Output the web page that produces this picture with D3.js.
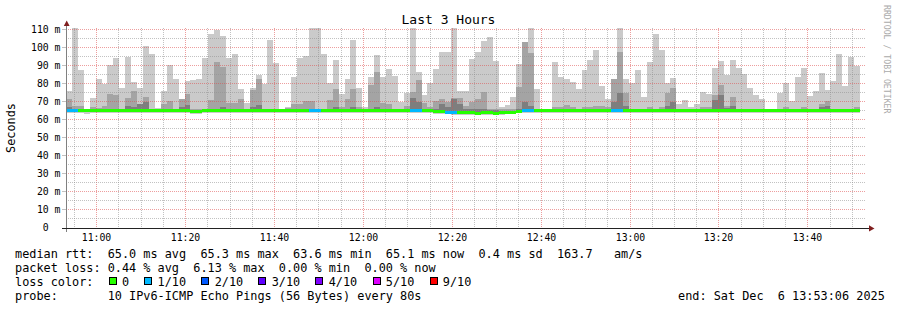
<!DOCTYPE html>
<html lang="en">
<head>
<meta charset="UTF-8">
<title>Last 3 Hours</title>
<style>
  body { margin: 0; background: #fff; }
  svg text { font-family: "DejaVu Sans Mono", monospace; white-space: pre; fill: #000; }
  .axis-label { font-size: 9.8px; }
  .legend { font-size: 11.85px; }
</style>
</head>
<body>
<svg id="chart" width="897" height="310"></svg>
<script src="https://cdn.jsdelivr.net/npm/d3@7"></script>
<script>
// --- data (ms), one slot every 80 s over the last 3 hours ---
const endTime = new Date(2025, 11, 6, 13, 53, 6);
const stepSeconds = 80;

const maxRtt = [76,111,87.8,66,72,83,80,90.5,94.4,78,
  95,81,78,101,96.7,66.7,76,90.5,83,71.5,
  81.7,82,82.8,94.4,108,110,106.7,94.4,96.7,77,
  69.4,77.8,85,80,104.4,91.7,65.6,67,84,94.4,
  95.5,111,111,96.7,80.5,93.3,74.4,83,104.4,77.8,
  67,84,96,84,88.3,84.4,70,75,111,86.7,
  74,80.5,88.3,97.8,97.8,111,76,76,94,98,
  104,106,92.8,67,68.3,72.8,91,103.3,111,77.2,
  66,66,92.2,83.9,82.8,81,77.2,87.8,93.3,98.9,
  79,71.7,82.8,111,82.8,80.5,87.8,72.8,92.2,108,
  99,80.5,83.3,68.9,71,67.2,68.9,75.6,74.4,88.9,
  92.8,85,93.3,88.9,85.6,78,73.9,71.7,66,66,
  75,80.5,70.6,83.9,88.9,73.3,76,86,76.7,81.7,
  96.7,78.9,95,90,null];

// 2nd and 9th ping band top
const p9Rtt = [71.7,68,68,66,67,66.7,68,74.4,73.9,66,
  72.2,76,69,72.8,66,66,69,70.7,66,71.5,
  74.4,66,66,66,71.1,92.2,89.4,69.4,69.4,71.7,
  66,76.7,82.8,66,66,66,65.6,66.7,69,69,
  70.7,70.7,66,66,71,77,67,71.7,77.2,67,
  66,79.4,86.7,69.4,69,66,66,68,75.6,82.2,
  69.4,67,70.7,71.7,70,72,72,68,70,71.7,
  75.6,66,66,66,66,66,78.3,103.3,97.2,66,
  66,66,67,67,68.5,67,66,67,67,67.8,
  67.8,67,82.8,97.8,75,66,66,66,67,66,
  67,75,78,66,66,66,66,67,67,73.9,
  79.4,68,72.8,66,66,66,66,66,66,66,
  66,67,66,66,67,66,66,68.9,70.6,66,
  66,66,66,67,null];

// 3rd and 8th ping band top
const p8Rtt = [67,66,66,65.5,66,66,66,66,66,65.5,
  68,67,69,70,65.5,65.5,66,66,65.5,67,
  68.5,65.5,65.5,65.5,66,66,67,66,66,66,
  65.5,67,68.5,65.5,65.5,65.5,65.5,65.5,66,66,
  66,66,65.5,65.5,66,67,66,66,67,66,
  65.5,66,67,66,66,65.5,65.5,66,72,70,
  66,66,66,69,67,71.7,69,66,66,66,
  66,65.5,65.5,65,65,65,66,70,68,65.5,
  65.5,65.5,66,66,66,66,65.5,66,66,66,
  66,66,70,75,68,65.5,65.5,65.5,66,65.5,
  66,68,70,65.5,65.5,65.5,65.5,66,66,71,
  74,66.7,68,65.5,65.5,65.5,65.5,65.5,65.5,65.5,
  65.5,66,65.5,65.5,66,65.5,65.5,67,68,65.5,
  65.5,65.5,65.5,66,null];

const minRtt = [64,64,64,63.3,64,64,64,64,64,64,
  64,64,64,64,64,64,64,64,64,64,
  64,63.5,63.5,64,64,64,64,64,64,64,
  64,64,64,64,64,64,64,64,64,64,
  64,64,64,64,64,64,64,64,64,64,
  64,64,64,64,64,64,64,64,64,64,
  64,64,63.6,63.4,63.2,63,63,63,63,62.8,
  63,63,62.8,63,63.2,63.4,63.8,64,64,64,
  64,64,64,64,64,64,64,64,64,64,
  64,64,64,64,64,64,64,64,64,64,
  64,64,64,64,64,64,64,64,64,64,
  64,64,64,64,64,64,64,64,64,64,
  64,64,64,64,64,64,64,64,64,64,
  64,64,64,64,null];

const medianRtt = [65.3,65.3,65.3,65.3,65.3,65.3,65.3,65.3,65.3,65.3,
  65.3,65.3,65.3,65.3,65.3,65.3,65.3,65.3,65.3,65.3,
  65.3,64.6,64.6,65.0,65.3,65.3,65.3,65.3,65.3,65.3,
  65.3,65.3,65.3,65.3,65.3,65.3,65.3,65.3,65.3,65.3,
  65.3,65.3,65.3,65.3,65.3,65.3,65.3,65.3,65.3,65.3,
  65.3,65.3,65.3,65.3,65.3,65.1,65.0,65.0,65.1,65.2,
  65.3,65.2,64.9,64.7,64.3,64.0,63.9,64.0,64.1,63.6,
  63.9,64.0,63.6,63.9,64.2,64.4,64.9,65.1,65.2,65.3,
  65.3,65.3,65.3,65.3,65.3,65.3,65.3,65.3,65.3,65.3,
  65.3,65.3,65.3,65.3,65.3,65.3,65.3,65.3,65.3,65.3,
  65.3,65.3,65.3,65.3,65.3,65.3,65.3,65.3,65.3,65.3,
  65.3,65.3,65.3,65.3,65.3,65.3,65.3,65.3,65.3,65.3,
  65.3,65.3,65.3,65.3,65.3,65.3,65.3,65.3,65.3,65.3,
  65.3,65.3,65.3,65.1,null];

// lost pings out of 10
const lossCount = [1,1,0,0,0,0,0,0,0,0,
  0,0,0,0,0,0,0,0,0,0,
  0,0,0,0,0,0,0,0,0,0,
  0,0,0,0,0,0,0,0,0,0,
  0,1,1,0,0,0,0,0,0,0,
  0,0,0,0,0,0,0,0,1,1,
  0,0,0,0,1,1,0,0,0,0,
  0,0,0,0,0,0,0,1,1,0,
  0,0,0,0,0,0,0,0,0,0,
  0,0,1,1,0,0,0,0,0,0,
  0,0,0,0,0,0,0,0,0,0,
  0,0,0,0,0,0,0,0,0,0,
  0,0,0,0,0,0,0,0,0,0,
  0,0,0,0,null];

const yTicks = [0,10,20,30,40,50,60,70,80,90,100,110];
const lossLabels = ['0','1/10','2/10','3/10','4/10','5/10','9/10'];
const lossColors = ['#26ff00','#00b8ff','#0059ff','#5e00ff','#7e00ff','#dd00ff','#ff0000'];
const lossThresholds = [0,1,2,3,4,5,9];
const statLines = [
  'median rtt:  65.0 ms avg  65.3 ms max  63.6 ms min  65.1 ms now  0.4 ms sd  163.7   am/s',
  'packet loss: 0.44 % avg  6.13 % max  0.00 % min  0.00 % now'
];
const probeLine = 'probe:       10 IPv6-ICMP Echo Pings (56 Bytes) every 80s';
const endLine = 'end: Sat Dec  6 13:53:06 2025';

// --- layout ---
const svg = d3.select('#chart');
const startTime = d3.timeHour.offset(endTime, -3);
const x = d3.scaleTime().domain([startTime, endTime]).range([66, 866]);
const y = d3.scaleLinear().domain([0, 111.1]).range([228, 28]);
const slot = i => new Date(startTime.getTime() + i * stepSeconds * 1000);

svg.append('rect').attr('width', 897).attr('height', 310).attr('fill', '#fff');
svg.append('clipPath').attr('id', 'plot').append('rect')
  .attr('x', 66).attr('y', 28).attr('width', 800).attr('height', 200);

// smoke
const smoke = svg.append('g').attr('clip-path', 'url(#plot)').attr('shape-rendering', 'crispEdges');
const layers = [
  { lo: minRtt, hi: maxRtt, color: '#cacaca' },
  { lo: medianRtt, hi: p9Rtt, color: '#a4a4a4' },
  { lo: medianRtt, hi: p8Rtt, color: '#7e7e7e' }
];
layers.forEach(l => {
  smoke.append('g').selectAll('rect')
    .data(d3.range(maxRtt.length).filter(i => l.hi[i] != null))
    .join('rect')
    .attr('x', i => x(slot(i)))
    .attr('width', i => x(slot(i + 1)) - x(slot(i)))
    .attr('y', i => y(l.hi[i]))
    .attr('height', i => y(l.lo[i]) - y(l.hi[i]))
    .attr('fill', l.color);
});

// grid
const grid = svg.append('g').attr('fill', 'none').attr('stroke-dasharray', '1,1');
const minorT = x.ticks(d3.timeMinute.every(5)).filter(t => t.getMinutes() % 20 !== 0);
const majorT = x.ticks(d3.timeMinute.every(20));
grid.selectAll('line.vmin').data(minorT).join('line')
  .attr('x1', t => Math.floor(x(t)) + 0.5).attr('x2', t => Math.floor(x(t)) + 0.5)
  .attr('y1', 28).attr('y2', 228).attr('stroke', 'rgba(143,143,143,0.55)');
grid.selectAll('line.vmaj').data(majorT).join('line')
  .attr('x1', t => Math.floor(x(t)) + 0.5).attr('x2', t => Math.floor(x(t)) + 0.5)
  .attr('y1', 28).attr('y2', 228).attr('stroke', 'rgba(222,79,79,0.55)');
const hTicks = d3.range(5, 111, 5);
grid.selectAll('line.h').data(hTicks).join('line')
  .attr('x1', 66).attr('x2', 866)
  .attr('y1', v => Math.round(y(v)) - 0.5).attr('y2', v => Math.round(y(v)) - 0.5)
  .attr('stroke', v => v % 10 === 0 ? 'rgba(222,79,79,0.55)' : 'rgba(143,143,143,0.55)');

// median, coloured by loss
const lossIndex = c => d3.bisectRight(lossThresholds, c) - 1;
svg.append('g').attr('shape-rendering', 'crispEdges').selectAll('rect')
  .data(d3.range(medianRtt.length).filter(i => medianRtt[i] != null))
  .join('rect')
  .attr('x', i => x(slot(i)))
  .attr('width', i => x(slot(i + 1)) - x(slot(i)))
  .attr('y', i => y(medianRtt[i]) - 1.5)
  .attr('height', 3)
  .attr('fill', i => lossColors[lossIndex(lossCount[i])]);

// axes
svg.append('line').attr('x1', 66.5).attr('x2', 66.5).attr('y1', 232).attr('y2', 25)
  .attr('stroke', '#808080');
svg.append('line').attr('x1', 62).attr('x2', 870).attr('y1', 228.5).attr('y2', 228.5)
  .attr('stroke', '#222');
svg.append('path').attr('d', 'M63.8,26 L69.6,26 L66.7,20.5 Z').attr('fill', '#801f1f');
svg.append('path').attr('d', 'M869,225.3 L869,231.5 L874.5,228.4 Z').attr('fill', '#801f1f');
svg.append('g').selectAll('line').data(yTicks.slice(1)).join('line')
  .attr('x1', 62).attr('x2', 66).attr('y1', v => Math.round(y(v)) - 0.5).attr('y2', v => Math.round(y(v)) - 0.5)
  .attr('stroke', 'rgba(143,143,143,0.55)');

svg.append('g').selectAll('text').data(yTicks).join('text')
  .attr('class', 'axis-label')
  .attr('x', 60.5).attr('y', v => y(v) + 2.6)
  .attr('text-anchor', 'end')
  .text(v => v === 0 ? '0  ' : v + ' m');

svg.append('g').selectAll('text').data(majorT).join('text')
  .attr('class', 'axis-label')
  .attr('x', t => Math.floor(x(t)) + 0.5).attr('y', 241)
  .attr('text-anchor', 'middle')
  .text(d3.timeFormat('%H:%M'));

svg.append('text').attr('class', 'legend')
  .attr('transform', 'translate(15,128) rotate(-90)')
  .attr('text-anchor', 'middle').text('Seconds');

svg.append('text').attr('x', 448.5).attr('y', 24).attr('text-anchor', 'middle')
  .style('font-size', '13px').text('Last 3 Hours');

svg.append('text').attr('transform', 'translate(883.5,5) rotate(90)')
  .style('font-size', '8.2px').style('fill', '#aaa').text('RRDTOOL / TOBI OETIKER');

// legend
const cw = 7.13, lx = c => 15 + c * cw;
const legend = svg.append('g').attr('class', 'legend');
statLines.forEach((s, i) => legend.append('text').attr('x', lx(0)).attr('y', 258.3 + i * 13.9).text(s));
legend.append('text').attr('x', lx(0)).attr('y', 286).text('loss color:');
let col = 13;
lossLabels.forEach((lab, i) => {
  legend.append('rect').attr('x', Math.round(lx(col) + 1) + 0.5).attr('y', 277.5)
    .attr('width', 7).attr('height', 7).attr('fill', lossColors[i]).attr('stroke', '#000');
  legend.append('text').attr('x', lx(col + 2)).attr('y', 286).text(lab);
  col += 2 + lab.length + 2;
});
legend.append('text').attr('x', lx(0)).attr('y', 300).text(probeLine);
legend.append('text').attr('x', 678).attr('y', 300).text(endLine);
</script>
</body>
</html>
